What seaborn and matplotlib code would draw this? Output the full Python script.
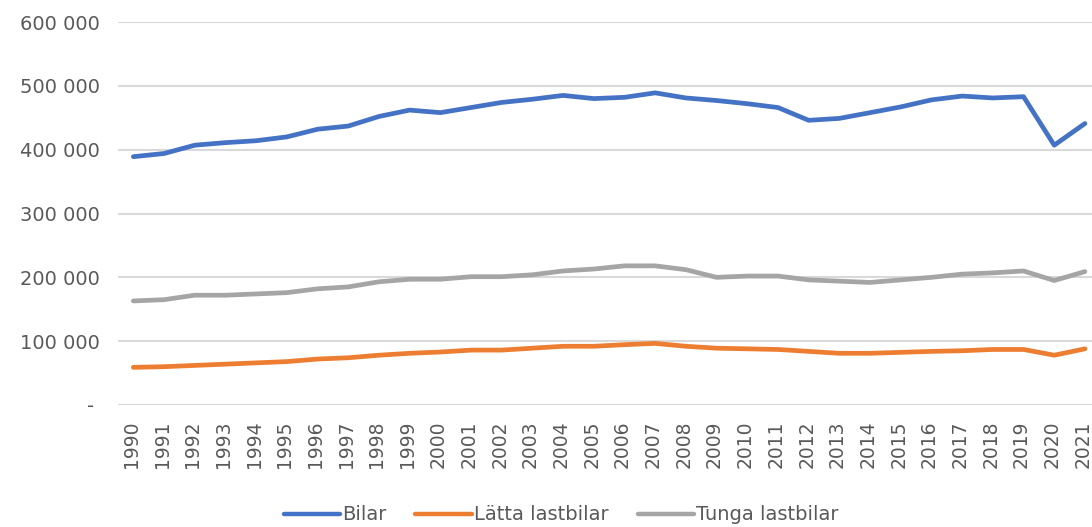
import matplotlib
matplotlib.use("Agg")
import matplotlib.pyplot as plt
import matplotlib.transforms as mtransforms
import seaborn as sns
import pandas as pd
from matplotlib.ticker import FixedLocator, FuncFormatter

years = list(range(1990, 2022))

bilar = [389000, 394000, 407000, 411000, 414000, 420000, 432000, 437000, 452000, 462000,
         458000, 466000, 474000, 479000, 485000, 480000, 482000, 489000, 481000, 477000,
         472000, 466000, 446000, 449000, 458000, 467000, 478000, 484000, 481000, 483000,
         407000, 441000]
latta_lastbilar = [59000, 60000, 62000, 64000, 66000, 68000, 72000, 74000, 78000, 81000,
                   83000, 86000, 86000, 89000, 92000, 92000, 94500, 96500, 92000, 89000,
                   88000, 87000, 84000, 81000, 81000, 82500, 84000, 85000, 87000, 87000,
                   78000, 88000]
tunga_lastbilar = [163000, 165000, 172000, 172000, 174000, 176000, 182000, 185000, 193000, 197000,
                   197000, 201000, 201000, 204000, 210000, 213000, 218000, 218000, 212000, 200000,
                   202000, 202000, 196000, 194000, 192000, 196000, 200000, 205000, 207000, 210000,
                   195000, 209000]

series_names = ["Bilar", "Lätta lastbilar", "Tunga lastbilar"]
series_colors = ["#4472C4", "#ED7D31", "#A5A5A5"]
y_ticks = [0, 100000, 200000, 300000, 400000, 500000, 600000]

df = pd.DataFrame({
    "idx": list(range(len(years))) * 3,
    "value": bilar + latta_lastbilar + tunga_lastbilar,
    "serie": [series_names[0]] * len(years) + [series_names[1]] * len(years)
             + [series_names[2]] * len(years),
})

sns.set_style("white")
plt.rcParams["font.family"] = ["DejaVu Sans"]
text_color = "#595959"

fig = plt.figure(figsize=(10.92, 5.27), dpi=100)
W, H = 1092, 527
left, right, top, bottom = 118, 1092, 22, 405
ax = fig.add_axes([left / W, 1 - bottom / H, (right - left) / W, (bottom - top) / H])

sns.lineplot(data=df, x="idx", y="value", hue="serie", palette=series_colors,
             hue_order=series_names, linewidth=3.4, ax=ax, legend=False,
             solid_capstyle="round", solid_joinstyle="round", zorder=3)

ax.set_xlim(-0.5, 31.23)
ax.set_ylim(0, 600000)
for s in ax.spines.values():
    s.set_visible(False)

ax.yaxis.set_major_locator(FixedLocator(y_ticks))
ax.yaxis.set_major_formatter(FuncFormatter(
    lambda v, p: "- " if v == 0 else f"{int(v):,}".replace(",", " ")))
ax.grid(axis="y", color="#D9D9D9", linewidth=1.5, zorder=0)
ax.grid(axis="x", visible=False)
ax.set_xticks(range(len(years)))
ax.set_xticklabels([str(y) for y in years], rotation=90)
ax.tick_params(axis="y", length=0, labelsize=14, colors=text_color, pad=13)
ax.tick_params(axis="x", length=0, labelsize=13.5, colors=text_color, pad=11)
ax.set_xlabel("")
ax.set_ylabel("")

# nudge the rotated year labels so the digits sit centred under each point
shift = mtransforms.ScaledTranslation(-2 / 100, 0, fig.dpi_scale_trans)
for lbl in ax.get_xticklabels():
    lbl.set_transform(lbl.get_transform() + shift)

handles = [plt.Line2D([], [], color=c, linewidth=3.2, solid_capstyle="round")
           for c in series_colors]
fig.legend(handles, series_names, loc="center", bbox_to_anchor=(561 / W, 12 / H),
           ncol=3, frameon=False, fontsize=14, handlelength=2.9, handletextpad=0.1,
           columnspacing=1.5, labelcolor=text_color, borderpad=0, borderaxespad=0)

fig.savefig("out.png", dpi=100)
